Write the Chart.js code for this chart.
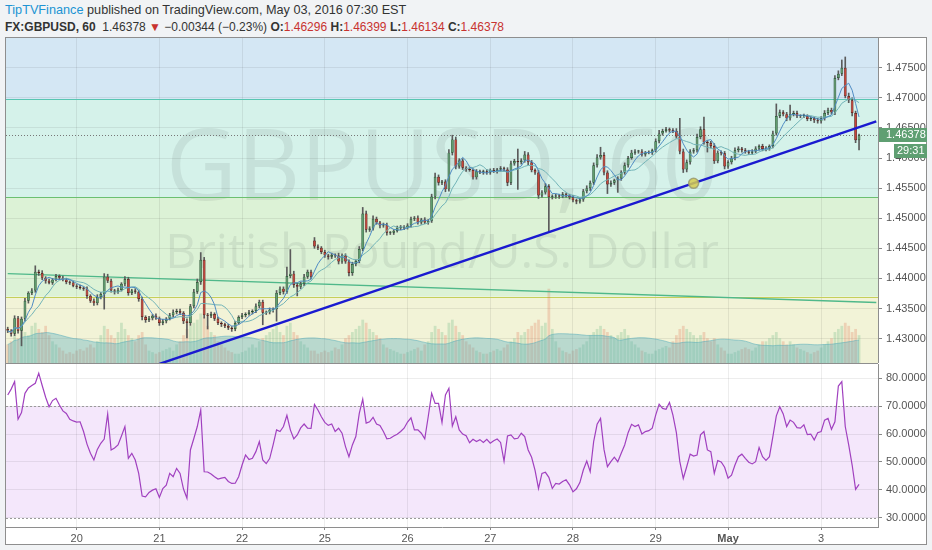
<!DOCTYPE html>
<html>
<head>
<meta charset="utf-8">
<script src="https://cdn.jsdelivr.net/npm/chart.js@4.4.1/dist/chart.umd.min.js"></script>
<style>
body{margin:0;width:932px;height:550px;overflow:hidden;background:#f1f3f5;position:relative;font-family:"Liberation Sans",Arial,sans-serif}
#h1{position:absolute;left:5px;top:3px;font-size:12.7px;color:#333;white-space:nowrap}
#h1 .who{color:#2093d3}
#h2{position:absolute;left:5px;top:20px;font-size:12px;color:#333;white-space:nowrap}
#h2 .dn{color:#c8322f}
#frame{position:absolute;left:5px;top:37px;width:920px;height:506px;background:#fff;border:1px solid #8e8e8e}
#sep{position:absolute;left:6px;top:363px;width:872px;height:1px;background:#8e8e8e}
canvas{position:absolute;left:0}
#price{top:38px}
#rsi{top:364px}
</style>
</head>
<body>
<div id="h1"><span class="who">TipTVFinance</span> published on TradingView.com, May 03, 2016 07:30 EST</div>
<div id="h2"><b>FX:GBPUSD, 60</b>&nbsp; 1.46378 <span class="dn">&#9660;</span> &minus;0.00344 (&minus;0.23%) <b>O:</b><span class="dn">1.46296</span> <b>H:</b><span class="dn">1.46399</span> <b>L:</b><span class="dn">1.46134</span> <b>C:</b><span class="dn">1.46378</span></div>
<div id="frame"></div>
<canvas id="price" width="932" height="325"></canvas>
<div id="sep"></div>
<canvas id="rsi" width="932" height="180"></canvas>
<script>
// hourly closes, Apr 19 04:00 .. May 03 11:00
const closes = [
1.4313,1.4308,1.4334,1.4313,1.4333,1.4363,1.4376,1.4380,1.4411,1.4409,
1.4401,1.4396,1.4393,1.4398,1.4404,1.4401,1.4398,1.4394,1.4393,1.4388,
1.4386,1.4384,1.4383,1.4371,1.4363,1.4359,1.4369,1.4374,1.4403,1.4396,
1.4380,1.4378,1.4381,1.4391,1.4399,1.4376,1.4380,1.4378,1.4366,1.4336,
1.4331,1.4334,1.4338,1.4334,1.4326,1.4329,1.4333,1.4339,1.4344,1.4346,
1.4343,1.4329,1.4326,1.4354,1.4378,1.4394,1.4431,1.4339,1.4338,1.4341,
1.4333,1.4326,1.4324,1.4321,1.4318,1.4316,1.4326,1.4336,1.4339,1.4341,
1.4344,1.4346,1.4354,1.4361,1.4343,1.4344,1.4348,1.4349,1.4376,1.4383,
1.4378,1.4404,1.4408,1.4389,1.4386,1.4391,1.4403,1.4411,1.4403,1.4453,
1.4451,1.4444,1.4438,1.4436,1.4439,1.4438,1.4428,1.4438,1.4428,1.4409,
1.4424,1.4429,1.4449,1.4508,1.4481,1.4483,1.4499,1.4493,1.4488,1.4489,
1.4476,1.4476,1.4479,1.4484,1.4486,1.4484,1.4488,1.4499,1.4501,1.4493,
1.4498,1.4493,1.4496,1.4536,1.4569,1.4559,1.4561,1.4548,1.4609,1.4631,
1.4586,1.4596,1.4584,1.4581,1.4580,1.4568,1.4578,1.4576,1.4578,1.4576,
1.4580,1.4578,1.4581,1.4583,1.4581,1.4559,1.4591,1.4595,1.4593,1.4596,
1.4606,1.4593,1.4580,1.4576,1.4538,1.4543,1.4553,1.4535,1.4536,1.4538,
1.4536,1.4540,1.4538,1.4535,1.4530,1.4528,1.4531,1.4545,1.4550,1.4559,
1.4588,1.4601,1.4605,1.4576,1.4556,1.4559,1.4563,1.4566,1.4576,1.4588,
1.4600,1.4609,1.4611,1.4611,1.4606,1.4609,1.4609,1.4613,1.4628,1.4641,
1.4645,1.4648,1.4646,1.4645,1.4636,1.4611,1.4581,1.4593,1.4611,1.4613,
1.4635,1.4648,1.4626,1.4625,1.4620,1.4595,1.4609,1.4608,1.4586,1.4593,
1.4600,1.4613,1.4616,1.4613,1.4611,1.4609,1.4611,1.4616,1.4620,1.4615,
1.4616,1.4620,1.4641,1.4670,1.4676,1.4673,1.4666,1.4673,1.4675,1.4670,
1.4670,1.4670,1.4665,1.4666,1.4663,1.4661,1.4666,1.4675,1.4680,1.4676,
1.4733,1.4740,1.4750,1.4703,1.4696,1.4675,1.46296,1.46378];
// wick lengths above / below the body, in pips
const wickUp = [
3,2,4,3,3,4,2,3,10,3, 4,2,3,2,3,2,3,2,2,3, 2,3,2,3,2,3,4,3,5,4, 3,2,3,2,4,3,2,3,2,3,
2,3,2,3,2,3,2,3,4,3, 3,2,4,3,4,5,12,4,3,3, 2,3,2,2,3,2,3,2,3,2, 3,2,4,3,3,2,3,2,4,3,
3,15,40,4,3,3,4,3,3,5, 3,2,3,2,3,2,4,3,3,3, 3,2,4,10,4,3,5,3,2,3, 3,2,2,3,2,2,3,3,2,3,
2,3,2,4,6,3,2,3,5,7, 4,3,3,2,3,2,3,2,2,3, 2,3,2,3,2,3,4,3,20,3, 5,3,3,2,4,3,5,3,3,2,
2,3,2,2,3,2,3,3,4,3, 4,5,13,4,3,3,2,3,3,4, 3,4,3,2,3,2,3,2,4,5, 3,3,2,3,4,30,4,4,3,3,
5,4,20,3,3,4,3,3,3,3, 3,4,3,2,3,2,3,3,2,3, 3,2,4,20,4,3,3,15,3,3, 2,3,2,3,2,3,3,4,3,3,
4,5,13,18,5,4,3,2];
const wickDn = [
3,4,3,4,25,3,4,3,3,4, 3,4,2,3,2,3,2,3,3,2, 3,2,3,4,3,4,3,3,25,3, 3,4,3,2,3,4,3,3,4,5,
4,3,3,2,4,3,3,2,3,3, 3,4,25,4,3,3,4,5,22,3, 3,3,4,3,3,4,3,2,3,3, 2,3,3,3,20,3,3,4,20,3,
4,3,3,4,15,3,3,3,4,3, 3,3,3,4,3,3,4,3,3,5, 4,3,3,3,4,3,3,3,4,3, 4,3,3,2,3,3,2,3,3,3,
3,2,3,3,4,4,3,4,3,4, 4,3,3,3,2,3,3,2,3,3, 3,2,3,3,3,5,3,3,45,3, 3,4,3,3,5,3,3,58,3,3,
3,2,3,3,3,4,3,3,3,4, 3,3,3,4,15,3,3,20,3,3, 3,2,3,3,3,3,2,3,3,3, 3,2,3,3,3,4,5,4,3,3,
3,3,3,15,3,4,3,3,4,3, 3,3,3,3,3,3,3,2,3,3, 3,3,3,3,3,3,4,3,3,3, 3,3,3,3,4,3,3,3,3,3,
4,3,3,3,4,5,4,16];
const firstOpen = 1.4316;
const gapOpens = {89: 1.4463};   // Sunday re-open gap
const volumes = [
600,700,900,800,1100,1000,900,1200,1300,1100,1000,1200,900,700,600,500,400,300,350,300,
400,450,400,500,600,500,700,900,1200,1100,900,800,1000,1300,1100,900,800,700,900,1000,600,400,350,300,
350,400,450,500,400,600,700,900,1100,1200,1300,1400,1600,1500,1200,1000,900,700,600,500,400,350,300,300,
350,400,500,600,500,700,800,900,1000,1100,1200,1000,900,1200,1300,1000,900,700,600,500,400,
400,300,350,
400,350,400,500,450,600,800,900,1000,1100,1200,1400,1300,1100,1000,900,800,600,500,450,400,350,300,300,
350,400,450,500,400,600,700,1000,1200,1100,1000,900,1300,1400,1200,1000,900,700,600,500,400,350,300,300,
350,400,450,400,500,600,700,800,1000,900,1000,1100,1200,1300,1400,1200,1300,2400,1100,700,500,400,350,300,
400,450,500,600,700,900,1000,1100,1200,1100,1000,900,800,900,1000,1100,900,700,600,500,400,350,300,300,
400,450,500,550,500,700,900,1100,1200,1100,1000,900,800,900,1000,800,700,800,600,500,400,
300,300,350,
400,450,500,450,400,500,600,700,700,800,900,1000,800,700,600,700,600,500,450,400,350,300,350,400,
500,600,700,800,1000,1100,1200,1300,1200,1000,1100,900];
const rsi = [
74.0,76.1,78.8,65.3,67.7,74.6,76.5,77.4,78.2,81.8, 77.4,73.2,69.8,72.0,72.8,70.4,68.3,67.4,65.3,64.7,
64.3,64.4,60.9,56.4,53.1,50.7,54.5,56.7,58.2,67.2, 54.3,55.0,56.1,59.3,62.7,51.3,53.1,50.7,45.9,37.8,
37.5,39.1,39.9,40.4,37.3,40.5,41.7,45.9,44.7,47.7, 45.9,40.3,37.0,54.3,58.4,62.7,68.6,46.5,46.4,45.7,
44.7,43.9,44.2,44.5,43.0,42.3,42.4,44.7,48.9,52.5, 50.9,51.3,53.7,57.3,50.7,49.4,51.2,56.1,61.5,60.9,
62.7,66.7,61.5,58.3,59.7,62.2,63.6,62.1,62.0,70.6, 68.6,66.2,64.2,63.1,63.6,60.9,62.1,60.3,55.5,51.9,
56.1,59.1,67.4,72.5,63.9,64.4,66.0,63.6,63.1,60.9, 58.3,58.5,59.3,59.9,60.9,62.1,64.3,65.8,61.5,61.5,
60.3,58.3,66.2,74.6,71.0,71.0,64.1,74.0,76.4,62.9, 66.2,61.5,60.0,59.4,56.9,58.1,57.3,58.0,57.0,58.1,
56.7,57.6,58.2,57.0,50.3,59.3,59.7,58.3,58.5,60.3, 59.1,54.3,51.7,47.0,40.5,45.9,46.3,44.5,40.5,42.3,
42.1,43.0,43.6,41.8,39.3,40.4,42.6,47.1,50.3,46.5, 57.3,63.5,65.6,54.5,48.3,50.1,51.7,50.1,53.1,56.1,
60.5,63.5,62.7,63.3,60.0,60.9,61.2,62.1,66.8,70.7, 69.2,68.9,71.3,66.8,60.5,50.1,44.1,48.3,52.8,52.1,
52.5,59.7,60.9,54.3,53.7,45.9,50.5,50.0,48.1,44.2, 45.3,48.9,51.9,52.8,51.3,49.9,49.3,50.1,55.2,51.9,
50.6,51.9,59.1,66.5,69.8,67.2,62.7,65.0,64.2,62.3, 62.1,63.3,59.8,60.0,57.9,60.5,60.9,65.0,65.6,61.7,
64.4,77.2,78.8,62.7,56.1,48.9,40.2,42.0];

const priceTicks = [1.430,1.435,1.440,1.445,1.450,1.455,1.460,1.465,1.470,1.475];
const rsiTicks = [30,40,50,60,70,80];
const dayTickIndex = [20,44,68,92,116,140,164,188,209,236];
const dayTickText = ['20','21','22','25','26','27','28','29','May','3'];
const fibLevels = [1.46978,1.45345,1.43695];
const blueTrend = [[44,1.4258],[252,1.4661]];
const greenTrend = [[0,1.4408],[252,1.4360]];
const marker = [199,1.4558];
const lastPrice = 1.46378, countdown = '29:31';
const slotCount = 253;   // bars plus the empty right margin

// ---- derived
const slots = Array.from({length: slotCount}, (_, i) => i);
const opens = closes.map((c, i) => gapOpens[i] ?? (i === 0 ? firstOpen : closes[i - 1]));
const highs = closes.map((c, i) => Math.max(opens[i], c) + wickUp[i] / 10000);
const lows = closes.map((c, i) => Math.min(opens[i], c) - wickDn[i] / 10000);
const isUp = closes.map((c, i) => c >= opens[i]);

function sma(arr, n) {
    return arr.map((v, i) => {
        let s = 0, k = 0;
        for (let j = Math.max(0, i - n + 1); j <= i; j++) { s += arr[j]; k++; }
        return s / k;
    });
}
function segment(pts) {
    return slots.map(i => i === pts[0][0] ? pts[0][1] : (i === pts[1][0] ? pts[1][1] : null));
}

const zoneColors = ['#d4e7f4','#d5f2ea','#dcf2d6','#f2f3d7'];
const levelColors = ['#58c6b2','#6cc070','#c5cf5a'];
const gridColor = 'rgba(0,0,0,0.07)';
const axisFont = {family: '"Liberation Sans", Arial, sans-serif', size: 11};

// fixed axis width, and no extra room for the end labels
function fitY(s) { s.width = 54; s.paddingTop = 0; s.paddingBottom = 0; }

const priceBg = {
    id: 'priceBg',
    beforeDraw(chart) {
        const ctx = chart.ctx, a = chart.chartArea, y = chart.scales.y;
        const edges = [a.top].concat(fibLevels.map(v => y.getPixelForValue(v))).concat([a.bottom]);
        ctx.save();
        for (let k = 0; k < zoneColors.length; k++) {
            ctx.fillStyle = zoneColors[k];
            ctx.fillRect(a.left, edges[k], a.right - a.left, edges[k + 1] - edges[k]);
        }
        ctx.restore();
    },
    beforeDatasetsDraw(chart) {
        const ctx = chart.ctx, a = chart.chartArea, y = chart.scales.y;
        ctx.save();
        ctx.beginPath(); ctx.rect(a.left, a.top, a.right - a.left, a.bottom - a.top); ctx.clip();
        const cx = (a.left + a.right) / 2;
        ctx.fillStyle = 'rgba(70,80,80,0.10)';
        ctx.textAlign = 'center';
        ctx.font = '98px "Open Sans"';
        ctx.fillText('GBPUSD, 60', cx, 162);
        ctx.font = '48px "Open Sans"';
        ctx.fillText('British Pound/U.S. Dollar', cx, 230);
        fibLevels.forEach((v, k) => {
            const py = Math.round(y.getPixelForValue(v)) + 0.5;
            ctx.strokeStyle = levelColors[k]; ctx.lineWidth = 1.2;
            ctx.beginPath(); ctx.moveTo(a.left, py); ctx.lineTo(a.right, py); ctx.stroke();
        });
        const ly = Math.round(y.getPixelForValue(lastPrice)) + 0.5;
        ctx.strokeStyle = '#777'; ctx.lineWidth = 1; ctx.setLineDash([1, 2]);
        ctx.beginPath(); ctx.moveTo(a.left, ly); ctx.lineTo(a.right, ly); ctx.stroke();
        ctx.restore();
    },
    afterDraw(chart) {
        const ctx = chart.ctx, a = chart.chartArea, y = chart.scales.y;
        const py = Math.round(y.getPixelForValue(lastPrice));
        ctx.save();
        ctx.fillStyle = '#5f9f72';
        ctx.fillRect(a.right + 1, py - 7, 48, 14);
        ctx.fillRect(a.right + 16, py + 9, 33, 14);
        ctx.fillStyle = '#fff';
        ctx.font = '11px "Liberation Sans", Arial';
        ctx.textBaseline = 'middle';
        ctx.fillText(lastPrice.toFixed(5), a.right + 8, py);
        ctx.fillText(countdown, a.right + 19, py + 16);
        ctx.restore();
    }
};

new Chart(document.getElementById('price'), {
    type: 'bar',
    data: {
        labels: slots,
        datasets: [
            {type: 'line', data: segment(blueTrend), borderColor: '#1a1ad0', borderWidth: 2.4,
             pointRadius: 0, spanGaps: true, order: 1},
            {type: 'line', data: slots.map(i => i === marker[0] ? marker[1] : null),
             pointRadius: 5, pointBackgroundColor: 'rgba(214,204,80,0.85)', pointBorderColor: 'rgba(150,150,110,0.8)',
             pointBorderWidth: 1.5, showLine: false, order: 0},
            {type: 'line', data: sma(closes, 5), borderColor: '#4f8cc4', borderWidth: 1,
             pointRadius: 0, order: 2},
            {type: 'line', data: sma(closes, 10), borderColor: '#72b4b8', borderWidth: 1,
             pointRadius: 0, order: 3},
            {data: closes.map((c, i) => [opens[i], c]),
             backgroundColor: isUp.map(u => u ? '#5f9e6e' : '#c8453a'),
             borderColor: isUp.map(u => u ? '#23502f' : '#5a1a14'),
             borderWidth: 0.7, borderSkipped: false, minBarLength: 1,
             barPercentage: 0.82, categoryPercentage: 1, grouped: false, order: 4},
            {data: closes.map((c, i) => [lows[i], highs[i]]),
             backgroundColor: '#5b5b5b', barThickness: 1, grouped: false, order: 5},
            {type: 'line', data: segment(greenTrend), borderColor: '#4fb88a', borderWidth: 1.3,
             pointRadius: 0, spanGaps: true, order: 6},
            {type: 'line', data: sma(volumes, 20), yAxisID: 'vol', borderColor: 'rgba(80,170,185,0.5)',
             borderWidth: 1, backgroundColor: 'rgba(80,170,190,0.35)', fill: 'start',
             pointRadius: 0, tension: 0.3, order: 7},
            {data: volumes, yAxisID: 'vol',
             backgroundColor: isUp.map(u => u ? 'rgba(70,170,110,0.22)' : 'rgba(220,90,60,0.22)'),
             barPercentage: 0.8, categoryPercentage: 1, grouped: false, order: 8}
        ]
    },
    options: {
        responsive: false, animation: false,
        layout: {autoPadding: false, padding: {left: 6, right: 0, top: 0, bottom: 0}},
        plugins: {legend: {display: false}, tooltip: {enabled: false}},
        scales: {
            x: {
                offset: true,
                afterBuildTicks(s) { s.ticks = dayTickIndex.map(v => ({value: v})); },
                afterFit(s) { s.height = 0; s.paddingLeft = 0; s.paddingRight = 0; },
                ticks: {display: false, autoSkip: false},
                grid: {color: gridColor, offset: false, drawTicks: false},
                border: {display: false}
            },
            y: {
                position: 'right', min: 1.42595, max: 1.47995,
                afterBuildTicks(s) { s.ticks = priceTicks.map(v => ({value: v})); },
                afterFit: fitY,
                ticks: {color: '#555', font: axisFont, padding: 4, callback: v => v.toFixed(5)},
                grid: {color: gridColor, tickLength: 4, tickColor: '#888'},
                border: {color: '#8e8e8e'}
            },
            vol: {display: false, min: 0, max: 10500}
        }
    },
    plugins: [priceBg]
});

const rsiBg = {
    id: 'rsiBg',
    beforeDraw(chart) {
        const ctx = chart.ctx, a = chart.chartArea, y = chart.scales.y;
        const t = y.getPixelForValue(70), b = y.getPixelForValue(30);
        ctx.save();
        ctx.fillStyle = '#f4e7fb';
        ctx.fillRect(a.left, t, a.right - a.left, b - t);
        ctx.restore();
    },
    beforeDatasetsDraw(chart) {
        const ctx = chart.ctx, a = chart.chartArea, y = chart.scales.y;
        ctx.save();
        ctx.strokeStyle = '#9a9a9a'; ctx.lineWidth = 1; ctx.setLineDash([2, 2]);
        [70, 30].forEach(v => {
            const py = Math.round(y.getPixelForValue(v)) + 0.5;
            ctx.beginPath(); ctx.moveTo(a.left, py); ctx.lineTo(a.right, py); ctx.stroke();
        });
        ctx.restore();
    }
};

new Chart(document.getElementById('rsi'), {
    type: 'line',
    data: {
        labels: slots,
        datasets: [{data: rsi, borderColor: '#a040bf', borderWidth: 1.2, pointRadius: 0, tension: 0}]
    },
    options: {
        responsive: false, animation: false,
        layout: {autoPadding: false, padding: {left: 6, right: 0, top: 0, bottom: 0}},
        plugins: {legend: {display: false}, tooltip: {enabled: false}},
        scales: {
            x: {
                offset: true,
                afterBuildTicks(s) { s.ticks = dayTickIndex.map(v => ({value: v})); },
                afterFit(s) { s.height = 17; s.paddingLeft = 0; s.paddingRight = 0; },
                ticks: {
                    autoSkip: false, maxRotation: 0, padding: 2, color: '#555',
                    font: c => ({family: axisFont.family, size: 11,
                                 weight: c.tick && c.tick.label === 'May' ? 'bold' : 'normal'}),
                    callback: v => dayTickText[dayTickIndex.indexOf(v)] ?? ''
                },
                grid: {color: gridColor, offset: false, tickLength: 3, tickColor: '#888'},
                border: {color: '#8e8e8e'}
            },
            y: {
                position: 'right', min: 26.7, max: 85.1,
                afterBuildTicks(s) { s.ticks = rsiTicks.map(v => ({value: v})); },
                afterFit: fitY,
                ticks: {color: '#555', font: axisFont, padding: 4, callback: v => v.toFixed(4)},
                grid: {color: gridColor, tickLength: 4, tickColor: '#888'},
                border: {color: '#8e8e8e'}
            }
        }
    },
    plugins: [rsiBg]
});
</script>
</body>
</html>
